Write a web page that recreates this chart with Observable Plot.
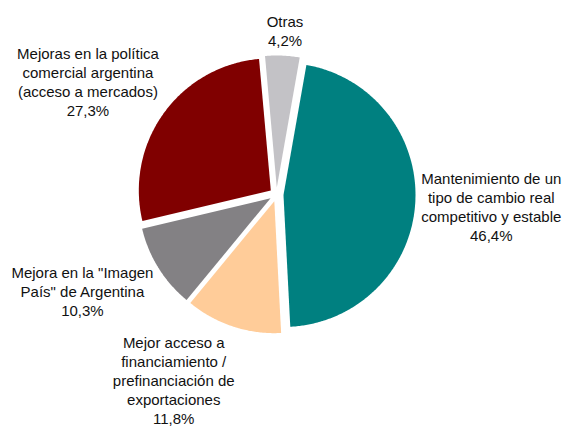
<!DOCTYPE html>
<html><head><meta charset="utf-8">
<script src="https://cdn.jsdelivr.net/npm/d3@7"></script>
<script src="https://cdn.jsdelivr.net/npm/@observablehq/plot@0.6"></script>
<style>html,body{margin:0;padding:0;background:#fff}</style>
</head><body><div id="chart"></div>
<script>
// ---- data ----
const categories = [
  "Mantenimiento de un tipo de cambio real competitivo y estable",
  "Mejor acceso a financiamiento / prefinanciación de exportaciones",
  "Mejora en la \"Imagen País\" de Argentina",
  "Mejoras en la política comercial argentina (acceso a mercados)",
  "Otras"
];
const labelLines = [
  "Mantenimiento de un\ntipo de cambio real\ncompetitivo y estable",
  "Mejor acceso a\nfinanciamiento /\nprefinanciación de\nexportaciones",
  "Mejora en la \"Imagen\nPaís\" de Argentina",
  "Mejoras en la política\ncomercial argentina\n(acceso a mercados)",
  "Otras"
];
const values = [46.4, 11.8, 10.3, 27.3, 4.2];

// ---- layout / style ----
const W = 564, H = 428, CX = 276, CY = 194, R = 132, EXPLODE = 7, GAP = 6;
const FONT_SIZE = 15, LINE_PX = 19;
const FONT_FAMILY = "'Liberation Sans', Arial, sans-serif";
const START_DEG = 10;
const sliceColors = ["#008080", "#FFCC99", "#838184", "#800000", "#C3C2C6"];

const fmt = v => v.toFixed(1).replace(".", ",") + "%";
const data = categories.map((c, i) => ({name: c, value: values[i], label: labelLines[i] + "\n" + fmt(values[i])}));

const start = START_DEG * Math.PI / 180;
const arcs = d3.pie().sort(null).value(d => d.value).startAngle(start).endAngle(start + 2 * Math.PI)(data);

// slice outlines in chart units (y up)
const pts = [];
arcs.forEach(a => {
  const mid = (a.startAngle + a.endAngle) / 2;
  const ox = EXPLODE * Math.sin(mid), oy = EXPLODE * Math.cos(mid);
  pts.push({name: a.data.name, x: ox, y: oy});
  const n = Math.max(2, Math.ceil((a.endAngle - a.startAngle) / 0.01));
  for (let i = 0; i <= n; i++) {
    const t = a.startAngle + (a.endAngle - a.startAngle) * i / n;
    pts.push({name: a.data.name, x: ox + R * Math.sin(t), y: oy + R * Math.cos(t)});
  }
});

// label placement from bisector angle and measured text size
const ctx = document.createElement("canvas").getContext("2d");
ctx.font = `${FONT_SIZE}px ${FONT_FAMILY}`;
const clamp = v => Math.max(-1, Math.min(1, v));
const labels = arcs.map(a => {
  const mid = (a.startAngle + a.endAngle) / 2;
  const ux = Math.sin(mid), uy = Math.cos(mid);
  const lines = a.data.label.split("\n");
  const w = Math.max(...lines.map(l => ctx.measureText(l).width));
  const h = lines.length * LINE_PX;
  const A = R + EXPLODE + GAP;
  return {
    label: a.data.label,
    x: A * ux + clamp(3 * ux) * w / 2,
    y: A * uy + clamp(1.3 * uy) * h / 2
  };
});

const chart = Plot.plot({
  width: W, height: H, margin: 0,
  x: {domain: [-CX, W - CX], range: [0, W], axis: null},
  y: {domain: [-(H - CY), CY], range: [H, 0], axis: null},
  color: {domain: categories, range: sliceColors},
  style: {fontFamily: FONT_FAMILY, background: "white"},
  marks: [
    Plot.line(pts, {x: "x", y: "y", z: "name", fill: "name", stroke: "none", curve: "linear-closed"}),
    Plot.text(labels, {x: "x", y: "y", text: "label", fontSize: FONT_SIZE, lineHeight: LINE_PX / FONT_SIZE,
      lineAnchor: "middle", textAnchor: "middle", fill: "#111"})
  ]
});
document.getElementById("chart").appendChild(chart);
</script>
</body></html>
